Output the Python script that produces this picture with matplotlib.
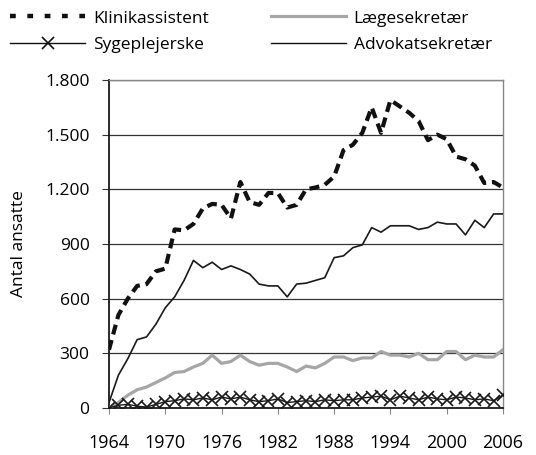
import matplotlib
matplotlib.use("Agg")
import matplotlib.pyplot as plt
from matplotlib.lines import Line2D
from matplotlib.ticker import FuncFormatter

plt.rcParams['font.family'] = ['Open Sans', 'DejaVu Sans']

years = list(range(1964, 2007))

klinikassistent = [320, 510, 600, 670, 680, 750, 765, 980, 975, 1010, 1095, 1120,
                   1115, 1040, 1240, 1130, 1115, 1180, 1180, 1100, 1115, 1200, 1210,
                   1225, 1270, 1415, 1445, 1510, 1650, 1510, 1690, 1655, 1620, 1575,
                   1470, 1500, 1475, 1380, 1365, 1330, 1235, 1240, 1210]

laegesekretaer = [0, 30, 70, 100, 115, 140, 165, 195, 200, 225, 245, 290,
                  245, 255, 290, 255, 235, 245, 245, 225, 200, 230, 220,
                  245, 280, 280, 260, 275, 275, 310, 290, 290, 280, 300,
                  265, 265, 310, 310, 265, 290, 280, 280, 320]

sygeplejerske = [0, 15, 20, 10, 5, 20, 35, 40, 50, 45, 55, 45,
                 60, 50, 60, 45, 35, 40, 50, 30, 35, 40, 35,
                 45, 40, 45, 45, 55, 60, 65, 45, 65, 55, 45,
                 60, 50, 45, 60, 55, 45, 50, 40, 70]

advokatsekretaer = [30, 180, 270, 375, 390, 460, 550, 610, 700, 810, 770, 800,
                    760, 780, 760, 735, 680, 670, 670, 610, 680, 685, 700,
                    715, 825, 835, 880, 895, 990, 965, 1000, 1000, 1000, 980,
                    990, 1020, 1010, 1010, 950, 1030, 990, 1065, 1065]

x_tick_years = [1964, 1970, 1976, 1982, 1988, 1994, 2000, 2006]
y_ticks = [0, 300, 600, 900, 1200, 1500, 1800]

series_names = ["Klinikassistent", "Lægesekretær", "Sygeplejerske", "Advokatsekretær"]

fig = plt.figure(figsize=(5.36, 4.55), dpi=100)
ax = fig.add_axes([109/536, 1-408/455, (503-109)/536, (408-80)/455])

ax.plot(years, laegesekretaer, color='#a6a6a6', lw=2.3, solid_joinstyle='round', zorder=3)
ax.plot(years, advokatsekretaer, color='#1a1a1a', lw=1.2, zorder=4)
ax.plot(years, sygeplejerske, color='#1a1a1a', lw=1.0, marker='x', markersize=8.5,
        markeredgewidth=1.2, zorder=5)
ax.plot(years, klinikassistent, color='#111111', lw=3.0, dashes=(2.4, 1.4), zorder=6)

ax.set_xlim(1964, 2006)
ax.set_ylim(0, 1800)
ax.set_xticks(x_tick_years)
ax.set_xticklabels([str(y) for y in x_tick_years])
ax.set_yticks(y_ticks)
ax.yaxis.set_major_formatter(FuncFormatter(lambda v, p: f"{int(v):,}".replace(",", ".")))

ax.grid(axis='y', color='#333333', lw=0.9, zorder=1)
ax.set_axisbelow(True)

for s in ['left', 'bottom']:
    ax.spines[s].set_color('#1a1a1a')
    ax.spines[s].set_linewidth(1.3)
for s in ['top', 'right']:
    ax.spines[s].set_color('#888888')
    ax.spines[s].set_linewidth(1.0)

ax.tick_params(axis='x', direction='out', length=4, color='#888888', pad=15, labelsize=13)
ax.tick_params(axis='y', direction='out', length=5, color='#333333', pad=9, labelsize=12.5)

ax.set_ylabel("Antal ansatte", fontsize=12.5)
ax.yaxis.set_label_coords(-(109-27)/394, 0.5)

handles = [
    Line2D([], [], color='#111111', lw=3.2, dashes=(1.3, 2.6)),
    Line2D([], [], color='#111111', lw=1.0, marker='x', markersize=8, markeredgewidth=1.2),
    Line2D([], [], color='#a6a6a6', lw=2.3),
    Line2D([], [], color='#111111', lw=1.0),
]
labels = [series_names[0], series_names[2], series_names[1], series_names[3]]
fig.legend(handles, labels, ncol=2, loc='upper left', bbox_to_anchor=(0.0, 1.0),
           frameon=False, fontsize=12.5, handlelength=4.3, handletextpad=0.45,
           columnspacing=3.6, labelspacing=0.6, numpoints=1, borderaxespad=0.2)

fig.savefig("out.png", dpi=100)
